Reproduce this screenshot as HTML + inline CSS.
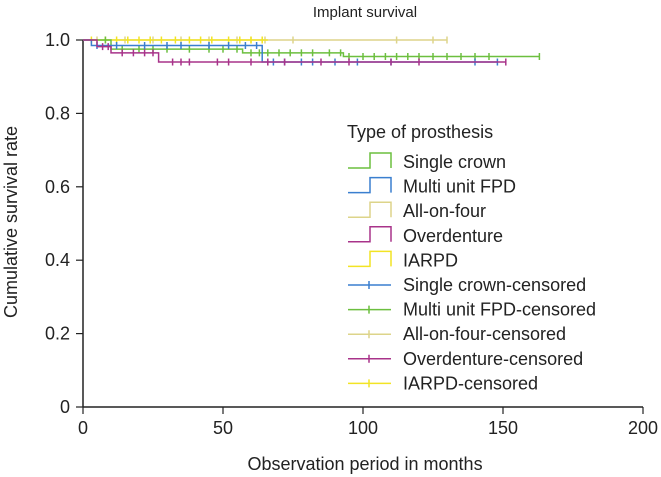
<!DOCTYPE html>
<html><head><meta charset="utf-8"><style>
body{margin:0;background:#fff}
svg{display:block;font-family:"Liberation Sans",Arial,sans-serif}
</style></head><body>
<svg id="chart" width="661" height="477">
<text x="365" y="17" font-size="15" text-anchor="middle" fill="#222">Implant survival</text>
<g id="axes"></g>
<g id="plot"></g>
<g id="legend"></g>
<text x="365" y="470" font-size="18" text-anchor="middle" fill="#222">Observation period in months</text>
<text transform="translate(17,222) rotate(-90)" font-size="18" text-anchor="middle" fill="#222">Cumulative survival rate</text>
</svg>
<script>
const xTicks=[0,50,100,150,200];
const yTicks=[0,0.2,0.4,0.6,0.8,1.0];
const yTickLabels=["0","0.2","0.4","0.6","0.8","1.0"];
const seriesNames=["Single crown","Multi unit FPD","All-on-four","Overdenture","IARPD"];
const seriesColors=["#6cbf3f","#3a7fcf","#ddd48a","#a8338a","#f2e424"];
const singleCrownTimes=[0,10,57,93,163];
const singleCrownValues=[1,0.975,0.965,0.955,0.955];
const multiFpdTimes=[0,3,64,148];
const multiFpdValues=[1,0.985,0.94,0.94];
const allOnFourTimes=[0,130];
const allOnFourValues=[1,1];
const overdentureTimes=[0,5,10,27,151];
const overdentureValues=[1,0.982,0.965,0.94,0.94];
const iarpdTimes=[0,66];
const iarpdValues=[1,1];
const singleCrownCensor=[8,14,20,25,30,38,45,50,55,60,63,66,70,74,78,82,88,92,95,100,104,108,112,116,120,125,130,135,140,145,163];
const multiFpdCensor=[5,12,22,30,35,45,52,58,62,68,72,78,82,90,98,110,140,148];
const allOnFourCensor=[5,15,25,35,45,55,60,65,75,112,125,130];
const overdentureCensor=[7,9,14,18,22,25,32,35,38,48,52,60,66,72,85,95,110,120,151];
const iarpdCensor=[3,8,12,16,20,24,28,33,38,42,46,52,56,60,64];
const x0=83,x1=643,yb=407,yt=40;
const sx=v=>x0+(v/200)*(x1-x0);
const sy=v=>yb-v*(yb-yt);
const NS="http://www.w3.org/2000/svg";
function mk(tag,attrs,parent){const e=document.createElementNS(NS,tag);for(const k in attrs)e.setAttribute(k,attrs[k]);parent.appendChild(e);return e;}
const axes=document.getElementById('axes');
let l=mk('line',{x1:x0,y1:yb,x2:x1,y2:yb,stroke:'#222','stroke-width':1.5},axes);


l=mk('line',{x1:x0,y1:yb,x2:x0,y2:yt,stroke:'#222','stroke-width':1.5},axes);


xTicks.forEach(t=>{mk('line',{x1:sx(t),y1:yb,x2:sx(t),y2:yb+7,stroke:'#222','stroke-width':1.2},axes);
const tx=mk('text',{x:sx(t),y:yb+27,'font-size':18,'text-anchor':'middle',fill:'#222'},axes);tx.textContent=t;

});
yTicks.forEach((t,i)=>{mk('line',{x1:x0-7,y1:sy(t),x2:x0,y2:sy(t),stroke:'#222','stroke-width':1.2},axes);
const tx=mk('text',{x:x0-13,y:sy(t)+6,'font-size':18,'text-anchor':'end',fill:'#222'},axes);tx.textContent=yTickLabels[i];

});
const plot=document.getElementById('plot');
const all=[[singleCrownTimes,singleCrownValues,singleCrownCensor],[multiFpdTimes,multiFpdValues,multiFpdCensor],[allOnFourTimes,allOnFourValues,allOnFourCensor],[overdentureTimes,overdentureValues,overdentureCensor],[iarpdTimes,iarpdValues,iarpdCensor]];
const order=[2,4,0,1,3];
order.forEach(i=>{const [T,V,C]=all[i];let d=`M${sx(T[0])},${sy(V[0])}`;
for(let k=1;k<T.length;k++){d+=` H${sx(T[k])} V${sy(V[k])}`;}
const p=mk('path',{d:d,fill:'none',stroke:seriesColors[i],'stroke-width':1.5},plot);


C.forEach(c=>{let v=V[0];for(let k=0;k<T.length;k++){if(T[k]<=c)v=V[k];}
const m=mk('path',{d:`M${sx(c)},${sy(v)-3.5}V${sy(v)+3.5}`,stroke:seriesColors[i],'stroke-width':1.5},plot);

});});
const lg=document.getElementById('legend');
const lt=mk('text',{x:347,y:138,'font-size':18,fill:'#222'},lg);lt.textContent='Type of prosthesis';


const labels=seriesNames.concat(seriesNames.map(n=>n+'-censored'));
const censorColors=["#3a7fcf","#6cbf3f","#ddd48a","#a8338a","#f2e424"];
labels.forEach((n,i)=>{const y=162+i*24.6;const g=mk('g',{},lg);


if(i<5){mk('path',{d:`M348,${y+6}H370V${y-9}H391V${y+6}`,fill:'none',stroke:seriesColors[i],'stroke-width':1.5},g);}
else{const c=censorColors[i-5];mk('path',{d:`M348,${y}H391M369,${y-4}V${y+4}`,fill:'none',stroke:c,'stroke-width':1.5},g);}
const t=mk('text',{x:403,y:y+6,'font-size':18,fill:'#222'},g);t.textContent=n;});
</script>
</body></html>
